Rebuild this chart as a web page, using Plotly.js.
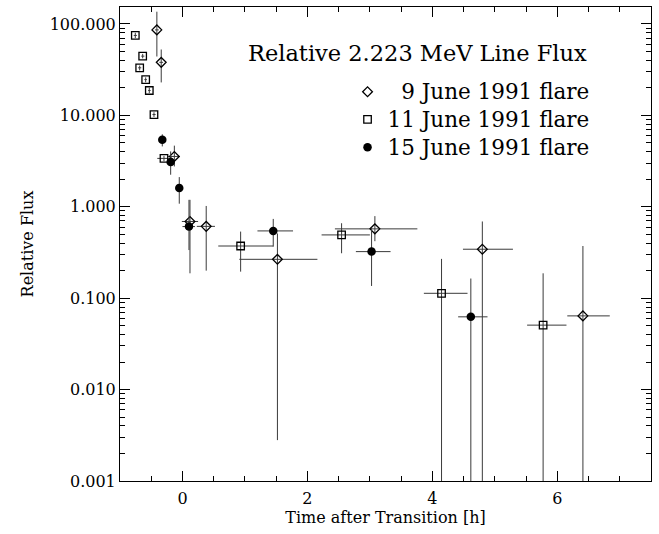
<!DOCTYPE html>
<html><head><meta charset="utf-8">
<script src="https://cdn.plot.ly/plotly-3.0.1.min.js"></script>
<style>html,body{margin:0;padding:0;background:#fff}</style>
</head><body><div id="chart" style="width:659px;height:534px"></div>
<script>
// 9 June 1991 flare (diamonds)
const june9_t     = [-0.41, -0.34, -0.13, 0.12, 0.38, 1.52, 3.08, 4.80, 6.41];
const june9_tLo   = [-0.44, -0.37, -0.23, -0.01, 0.23, 0.91, 2.44, 4.49, 6.16];
const june9_tHi   = [-0.38, -0.31, -0.04, 0.25, 0.52, 2.16, 3.76, 5.29, 6.84];
const june9_flux  = [86, 38, 3.55, 0.69, 0.61, 0.266, 0.573, 0.343, 0.064];
const june9_lo    = [44, 22.9, 2.76, 0.187, 0.20, 0.0028, 0.42, 0.0005, 0.0005];
const june9_hi    = [136, 52.5, 4.66, 1.19, 1.02, 0.51, 0.79, 0.69, 0.372];

// 11 June 1991 flare (squares)
const june11_t    = [-0.755, -0.637, -0.685, -0.589, -0.531, -0.456, -0.296, 0.931, 2.547, 4.147, 5.773];
const june11_tLo  = [-0.78, -0.66, -0.71, -0.61, -0.55, -0.48, -0.403, 0.573, 2.227, 3.864, 5.517];
const june11_tHi  = [-0.73, -0.61, -0.66, -0.57, -0.51, -0.43, -0.227, 1.453, 3.0, 4.563, 6.147];
const june11_flux = [74.8, 44.4, 33.1, 24.6, 18.7, 10.2, 3.38, 0.372, 0.492, 0.113, 0.0507];
const june11_lo   = [70, 42, 31, 23, 17.5, 9.6, 3.15, 0.195, 0.31, 0.0005, 0.0005];
const june11_hi   = [80, 47, 35, 26, 20, 10.8, 3.6, 0.535, 0.66, 0.269, 0.187];

// 15 June 1991 flare (filled circles)
const june15_t    = [-0.323, -0.189, -0.051, 0.104, 1.453, 3.027, 4.616];
const june15_tLo  = [-0.323, -0.189, -0.051, 0.0, 1.20, 2.776, 4.413];
const june15_tHi  = [-0.323, -0.189, -0.051, 0.2, 1.77, 3.331, 4.883];
const june15_flux = [5.42, 3.08, 1.60, 0.607, 0.544, 0.323, 0.0625];
const june15_lo   = [4.57, 2.24, 1.08, 0.336, 0.366, 0.136, 0.0005];
const june15_hi   = [6.2, 4.03, 2.11, 1.19, 0.736, 0.59, 0.164];

const seriesNames = ['\u00a0\u00a09 June 1991 flare', '11 June 1991 flare', '15 June 1991 flare'];
const yTickVals = [0.001, 0.01, 0.1, 1, 10, 100];
const yTickText = ['0.001', '0.010', '0.100', '1.000', '10.000', '100.000'];
const xTickVals = [0, 2, 4, 6];

const FONT = 'DejaVu Serif, Liberation Serif, serif';
const ERR = '#3a3a3a';

function diff(a, b) { return a.map((v, i) => v - b[i]); }

function trace(name, t, tLo, tHi, f, lo, hi, marker) {
  return {
    type: 'scatter', mode: 'markers',
    name: '<span style="font-size:21.5px">' + name + '</span>',
    x: t, y: f,
    error_x: {type: 'data', symmetric: false, array: diff(tHi, t), arrayminus: diff(t, tLo),
              width: 0, thickness: 1, color: ERR},
    error_y: {type: 'data', symmetric: false, array: diff(hi, f), arrayminus: diff(f, lo),
              width: 0, thickness: 1, color: ERR},
    marker: marker
  };
}

const minorY = [];
for (let e = -3; e <= 2; e++) for (let k = 2; k <= 9; k++) minorY.push(k * Math.pow(10, e));

const data = [
  trace(seriesNames[0], june9_t, june9_tLo, june9_tHi, june9_flux, june9_lo, june9_hi,
        {symbol: 'diamond-open', size: 7.5, color: '#000', line: {width: 1.3, color: '#000'}}),
  trace(seriesNames[1], june11_t, june11_tLo, june11_tHi, june11_flux, june11_lo, june11_hi,
        {symbol: 'square-open', size: 7.5, color: '#000', line: {width: 1.3, color: '#000'}}),
  trace(seriesNames[2], june15_t, june15_tLo, june15_tHi, june15_flux, june15_lo, june15_hi,
        {symbol: 'circle', size: 8.5, color: '#000', line: {width: 0}})
];

const axisCommon = {
  showline: true, linecolor: '#000', linewidth: 1, mirror: 'ticks',
  ticks: 'inside', ticklen: 10, tickwidth: 1, tickcolor: '#000',
  showgrid: false, zeroline: false,
  tickfont: {family: FONT, size: 16, color: '#000'}
};

const layout = {
  width: 659, height: 534,
  margin: {l: 120, r: 8, t: 7, b: 53},
  paper_bgcolor: '#fff', plot_bgcolor: '#fff',
  font: {family: FONT, color: '#000'},
  xaxis: Object.assign({}, axisCommon, {
    range: [-1, 7.5], tickmode: 'array', tickvals: xTickVals, ticklabelstandoff: 3,
    minor: {dtick: 0.5, tick0: 0, ticks: 'inside', ticklen: 5, tickwidth: 1, tickcolor: '#000'},
    title: {text: 'Time after Transition [h]', font: {family: FONT, size: 16, color: '#000'}, standoff: 4}
  }),
  yaxis: Object.assign({}, axisCommon, {
    type: 'log', range: [-3, 2.185], tickmode: 'array', tickvals: yTickVals, ticktext: yTickText,
    minor: {tickmode: 'array', tickvals: minorY, ticks: 'inside', ticklen: 5, tickwidth: 1, tickcolor: '#000'},
    title: {text: 'Relative Flux', font: {family: FONT, size: 16, color: '#000'}, standoff: 12}
  }),
  showlegend: true,
  legend: {x: 0.4285, y: 0.861, xanchor: 'left', yanchor: 'top', bgcolor: 'rgba(0,0,0,0)',
           font: {family: FONT, size: 19, color: '#000'}, borderwidth: 0},
  annotations: [{
    text: 'Relative 2.223 MeV Line Flux', xref: 'paper', yref: 'paper',
    x: 0.883, y: 0.903, xanchor: 'right', yanchor: 'middle', showarrow: false,
    font: {family: FONT, size: 22.5, color: '#000'}
  }]
};

Plotly.newPlot('chart', data, layout, {staticPlot: true, displayModeBar: false});
</script></body></html>
